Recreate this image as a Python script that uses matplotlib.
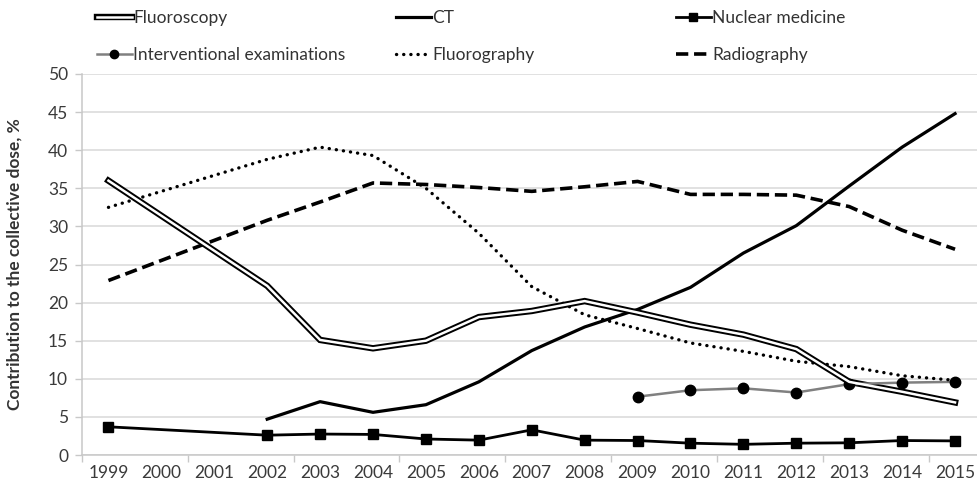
import matplotlib
matplotlib.use("Agg")
import matplotlib.pyplot as plt
from matplotlib.ticker import FixedLocator, MultipleLocator

plt.rcParams["font.family"] = ["Lato", "DejaVu Sans"]

years = list(range(1999, 2016))
main_years = [1999] + list(range(2002, 2016))
ct_years = list(range(2002, 2016))
interv_years = list(range(2009, 2016))

fluoroscopy = [36.0, 22.2, 15.1, 14.0, 15.0, 18.1, 18.9, 20.2, 18.7, 17.1, 15.8, 13.9, 9.6, 8.3, 6.9]
ct = [4.7, 7.0, 5.6, 6.6, 9.6, 13.7, 16.8, 19.1, 22.0, 26.5, 30.1, 35.3, 40.4, 44.8]
nuclear = [3.7, 2.6, 2.75, 2.7, 2.1, 1.95, 3.3, 1.95, 1.9, 1.55, 1.4, 1.55, 1.6, 1.9, 1.85]
interventional = [7.65, 8.5, 8.75, 8.2, 9.3, 9.5, 9.6]
fluorography = [32.5, 38.8, 40.4, 39.3, 35.0, 29.1, 22.1, 18.4, 16.6, 14.7, 13.6, 12.3, 11.6, 10.4, 9.8]
radiography = [22.9, 30.8, 33.2, 35.7, 35.5, 35.1, 34.6, 35.2, 35.9, 34.2, 34.2, 34.1, 32.6, 29.5, 27.0]


def idx(ys):
    return [years.index(y) for y in ys]


fig = plt.figure(figsize=(9.77, 4.88), dpi=100)
ax = fig.add_axes([82 / 977, 1 - 455 / 488, 899.5 / 977, 381 / 488])

# fluoroscopy: double line
fl_out, = ax.plot(idx(main_years), fluoroscopy, color="black", lw=4.6,
                  solid_joinstyle="miter", zorder=3)
fl_in, = ax.plot(idx(main_years), fluoroscopy, color="white", lw=1.8,
                 solid_joinstyle="miter", zorder=3.1)
ct_line, = ax.plot(idx(ct_years), ct, color="black", lw=2.3, zorder=3)
nm_line, = ax.plot(idx(main_years), nuclear, color="black", lw=2.0,
                   marker="s", ms=6.5, zorder=3)
iv_line, = ax.plot(idx(interv_years), interventional, color="#808080", lw=1.8,
                   marker="o", ms=7.5, mfc="black", mec="black", zorder=3)
fg_line, = ax.plot(idx(main_years), fluorography, color="black", lw=2.4,
                   linestyle=(0, (0.05, 2.1)), dash_capstyle="round", zorder=3)
rg_line, = ax.plot(idx(main_years), radiography, color="black", lw=2.6,
                   linestyle=(0, (3.4, 1.6)), zorder=3)

ax.set_xlim(-0.5, len(years) - 0.5)
ax.set_ylim(0, 50)
ax.yaxis.set_major_locator(MultipleLocator(5))
ax.set_xticks(range(len(years)))
ax.set_xticklabels([str(y) for y in years])
ax.xaxis.set_minor_locator(FixedLocator([-0.5 + 2 * k for k in range(9)]))
ax.tick_params(axis="x", which="major", length=0, pad=7, labelsize=12.5, colors="#3a3a3a")
ax.tick_params(axis="x", which="minor", length=5, color="#c8c8c8", width=1)
ax.tick_params(axis="y", length=5, color="#c8c8c8", width=1, pad=5,
               labelsize=12.5, labelcolor="#3a3a3a")

ax.grid(axis="y", color="#d9d9d9", lw=1.1, zorder=0)
ax.set_axisbelow(True)
for side in ["top", "right"]:
    ax.spines[side].set_visible(False)
for side in ["left", "bottom"]:
    ax.spines[side].set_color("#c8c8c8")
    ax.spines[side].set_linewidth(1.1)

ax.set_ylabel("Contribution to the collective dose, %", fontsize=12.5,
              fontweight="bold", color="#333333", labelpad=18)

# legend: three columns, two rows
cols = [
    (97, [((fl_out, fl_in), "Fluoroscopy"), (iv_line, "Interventional examinations")]),
    (396, [(ct_line, "CT"), (fg_line, "Fluorography")]),
    (676, [(nm_line, "Nuclear medicine"), (rg_line, "Radiography")]),
]
for x0, entries in cols:
    leg = fig.legend([e[0] for e in entries], [e[1] for e in entries],
                     loc="upper left", bbox_to_anchor=(x0 / 977, 1 - 10 / 488),
                     frameon=False, fontsize=12.5, handlelength=2.0,
                     handletextpad=0.1, labelspacing=1.2, borderaxespad=0,
                     borderpad=0, markerscale=0.8)
    for t in leg.get_texts():
        t.set_color("#333333")

fig.savefig("out.png", dpi=100)
